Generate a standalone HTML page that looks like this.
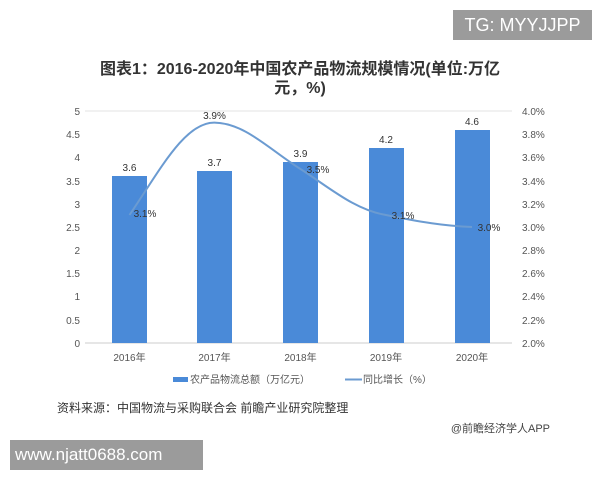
<!DOCTYPE html>
<html><head><meta charset="utf-8"><style>
body{margin:0;width:600px;height:480px;background:#fff;overflow:hidden;position:relative;font-family:"Liberation Sans","Noto Sans CJK SC",sans-serif}
.a{position:absolute;white-space:nowrap}
</style></head><body>
<div class="a" style="left:453px;top:10px;width:139px;height:30px;background:#9b9b9b;color:#fff;font-size:18px;line-height:30px;text-align:center">TG: MYYJJPP</div>
<div class="a" style="left:0;width:600px;top:60px;text-align:center;font-size:16px;font-weight:bold;color:#333;line-height:19px">图表1：2016-2020年中国农产品物流规模情况(单位:万亿<br>元，%)</div>
<svg class="a" style="left:0;top:0" width="600" height="480" font-family="Liberation Sans,Noto Sans CJK SC,sans-serif">
<g stroke="#e3e3e3" stroke-width="1">
<line x1="85" x2="512" y1="111" y2="111"/><line x1="85" x2="512" y1="343" y2="343" stroke="#ccc"/>
</g>
<g font-size="10" fill="#555" text-anchor="end">
<text x="80" y="115">5</text><text x="80" y="138">4.5</text><text x="80" y="161">4</text><text x="80" y="185">3.5</text><text x="80" y="208">3</text><text x="80" y="231">2.5</text><text x="80" y="254">2</text><text x="80" y="277">1.5</text><text x="80" y="300">1</text><text x="80" y="324">0.5</text><text x="80" y="347">0</text>
</g>
<g font-size="10" fill="#555">
<text x="522" y="115">4.0%</text><text x="522" y="138">3.8%</text><text x="522" y="161">3.6%</text><text x="522" y="185">3.4%</text><text x="522" y="208">3.2%</text><text x="522" y="231">3.0%</text><text x="522" y="254">2.8%</text><text x="522" y="277">2.6%</text><text x="522" y="300">2.4%</text><text x="522" y="324">2.2%</text><text x="522" y="347">2.0%</text>
</g>
<g fill="#4a8ad8">
<rect x="112" y="176" width="35" height="167"/>
<rect x="197" y="171" width="35" height="172"/>
<rect x="283" y="162" width="35" height="181"/>
<rect x="369" y="148" width="35" height="195"/>
<rect x="455" y="130" width="35" height="213"/>
</g>
<path d="M129.5,215 C160,170 185,122 214.5,122.6 C245,123 270,150 300.5,169 C330,188 355,210 386,215 C420,222 445,226 472,227" fill="none" stroke="#6b9bd1" stroke-width="2"/>
<g font-size="10" fill="#333" text-anchor="middle">
<text x="129.5" y="171">3.6</text><text x="214.5" y="166">3.7</text><text x="300.5" y="157">3.9</text><text x="386" y="143">4.2</text><text x="472" y="125">4.6</text>
<text x="145" y="217">3.1%</text><text x="214.5" y="119">3.9%</text><text x="318" y="173">3.5%</text><text x="403" y="219">3.1%</text><text x="489" y="231">3.0%</text>
</g>
<g font-size="10" fill="#555" text-anchor="middle">
<text x="129.5" y="361">2016年</text><text x="214.5" y="361">2017年</text><text x="300.5" y="361">2018年</text><text x="386" y="361">2019年</text><text x="472" y="361">2020年</text>
</g>
<rect x="173" y="377" width="15" height="5" fill="#4a8ad8"/>
<text x="190" y="383" font-size="10" fill="#555">农产品物流总额（万亿元）</text>
<line x1="345" x2="362" y1="379.5" y2="379.5" stroke="#6b9bd1" stroke-width="2"/>
<text x="363" y="383" font-size="10" fill="#555">同比增长（%）</text>
<text x="57" y="412" font-size="12" fill="#333">资料来源：中国物流与采购联合会 前瞻产业研究院整理</text>
<text x="550" y="432" font-size="11" fill="#444" text-anchor="end">@前瞻经济学人APP</text>
</svg>
<div class="a" style="left:10px;top:440px;width:193px;height:30px;background:#9b9b9b;color:#fff;font-size:17px;line-height:30px;padding-left:5px;box-sizing:border-box">www.njatt0688.com</div>
</body></html>
